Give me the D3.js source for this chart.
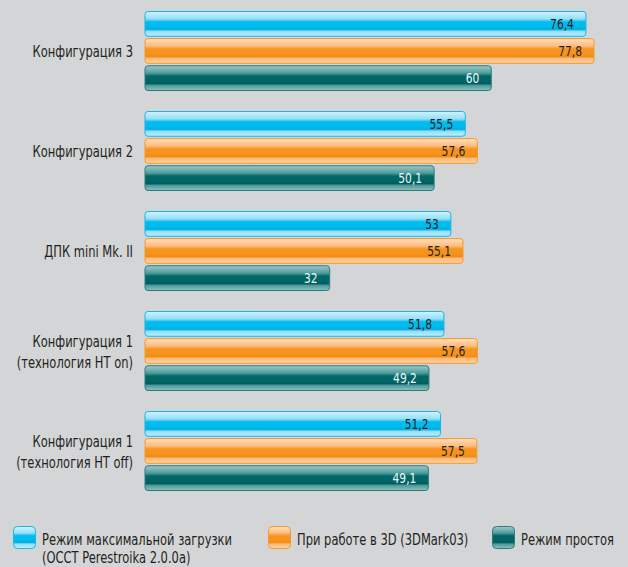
<!DOCTYPE html>
<html>
<head>
    <meta charset="utf-8">
    <style>
        body { margin: 0; background: #d4d5d7; }
        svg { display: block; }
        text { font-family: "DejaVu Sans Condensed", "DejaVu Sans", sans-serif; font-stretch: condensed; fill: #231f20; }
        .cat { font-size: 16px; text-anchor: end; }
        .val { font-size: 14px; text-anchor: end; }
        .leg { font-size: 16px; }
    </style>
    <script src="https://d3js.org/d3.v7.min.js"></script>
</head>
<body>
<svg width="628" height="567"></svg>
<script>
    // data
    var categories = [
        ["Конфигурация 3"],
        ["Конфигурация 2"],
        ["ДПК mini Mk. II"],
        ["Конфигурация 1", "(технология HT on)"],
        ["Конфигурация 1", "(технология HT off)"]
    ];
    var seriesNames = ["Режим максимальной загрузки", "При работе в 3D (3DMark03)", "Режим простоя"];
    var maxLoad = [76.4, 55.5, 53, 51.8, 51.2];
    var load3d  = [77.8, 57.6, 55.1, 57.6, 57.5];
    var idle    = [60, 50.1, 32, 49.2, 49.1];

    var series = [maxLoad, load3d, idle];
    var catKeys = categories.map(function(c) { return c.join(" "); });

    var svg = d3.select("svg");
    var squeeze = " scale(0.8,1)"; // narrow font look
    var squeezeVal = " scale(0.85,1)";

    // glossy gradients, one per series
    var looks = [
        { id: "gBlue",   top: "#d2f3fe", hi: "#93dff8", mid: "#00bbee", low: "#00aee0", bot: "#bdeefc", stroke: "#19b5e6", txt: "#231f20" },
        { id: "gOrange", top: "#ffe0c0", hi: "#fdbb7d", mid: "#f7941d", low: "#f08a12", bot: "#ffd2a3", stroke: "#f39a2d", txt: "#231f20" },
        { id: "gTeal",   top: "#9ccaca", hi: "#4f9a9a", mid: "#006666", low: "#005c5c", bot: "#8fc2c2", stroke: "#2d7c7c", txt: "#eef8f8" }
    ];
    var defs = svg.append("defs");
    looks.forEach(function(l) {
        var g = defs.append("linearGradient").attr("id", l.id)
            .attr("x1", 0).attr("y1", 0).attr("x2", 0).attr("y2", 1);
        [[0, l.top], [0.3, l.hi], [0.42, l.mid], [0.62, l.mid], [0.72, l.low], [0.8, l.hi], [1, l.bot]].forEach(function(s) {
            g.append("stop").attr("offset", s[0]).attr("stop-color", s[1]);
        });
    });

    var x = d3.scaleLinear().domain([0, 77.8]).range([145, 594]);
    var y0 = d3.scaleBand().domain(catKeys).range([11, 491]).paddingInner(0.2).paddingOuter(0);
    var y1 = d3.scaleBand().domain(d3.range(series.length)).range([0, y0.bandwidth()]).paddingInner(0.05);

    var fmt = function(v) { return String(v).replace(".", ","); };

    var groups = svg.selectAll(".grp")
        .data(categories)
        .enter().append("g")
        .attr("class", "grp")
        .attr("transform", function(d) { return "translate(0," + y0(d.join(" ")) + ")"; });

    // category labels
    groups.append("text")
        .attr("class", "cat")
        .attr("transform", function(d) {
            return "translate(133," + (y0.bandwidth() / 2 + 6 - (d.length - 1) * 10) + ")" + squeeze;
        })
        .selectAll("tspan")
        .data(function(d) { return d; })
        .enter().append("tspan")
        .attr("x", 0)
        .attr("dy", function(d, i) { return i ? 21 : 0; })
        .text(function(d) { return d; });

    // bars
    groups.each(function(c, ci) {
        var g = d3.select(this);
        series.forEach(function(s, si) {
            var l = looks[si];
            g.append("rect")
                .attr("x", x(0))
                .attr("y", y1(si) + 0.5)
                .attr("width", x(s[ci]) - x(0))
                .attr("height", y1.bandwidth() - 1)
                .attr("rx", 3)
                .attr("fill", "url(#" + l.id + ")")
                .attr("stroke", l.stroke)
                .attr("stroke-width", 1);
            g.append("text")
                .attr("class", "val")
                .attr("transform", "translate(" + (x(s[ci]) - 12) + "," + (y1(si) + y1.bandwidth() / 2 + 5) + ")" + squeezeVal)
                .style("fill", l.txt)
                .text(fmt(s[ci]));
        });
    });

    // legend
    var legX = [13, 268, 492];
    var leg = svg.selectAll(".legItem")
        .data(seriesNames)
        .enter().append("g")
        .attr("class", "legItem")
        .attr("transform", function(d, i) { return "translate(" + legX[i] + ",526)"; });
    leg.append("rect")
        .attr("x", 0.5).attr("y", 0.5)
        .attr("width", 22).attr("height", 22).attr("rx", 4)
        .attr("fill", function(d, i) { return "url(#" + looks[i].id + ")"; })
        .attr("stroke", function(d, i) { return looks[i].stroke; });
    leg.append("text")
        .attr("class", "leg")
        .attr("transform", "translate(29,19)" + squeeze)
        .text(function(d) { return d; });
    svg.append("text")
        .attr("class", "leg")
        .attr("transform", "translate(42,563)" + squeeze)
        .text("(OCCT Perestroika 2.0.0a)");
</script>
</body>
</html>
